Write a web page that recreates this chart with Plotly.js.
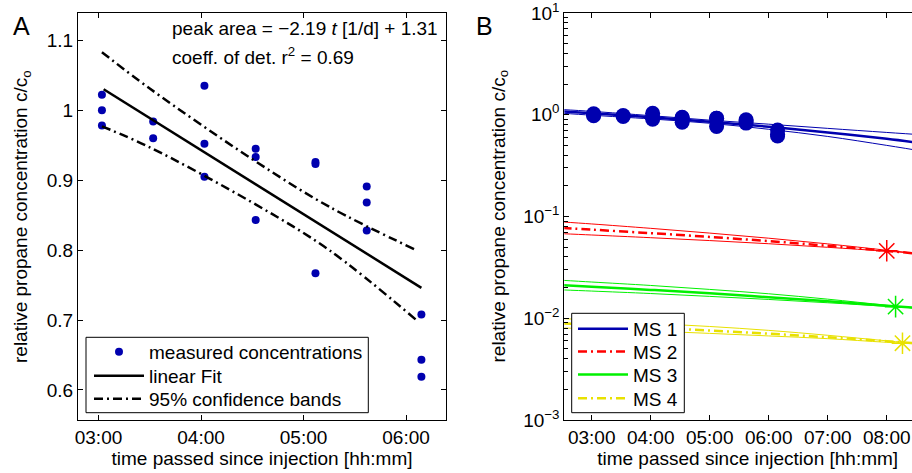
<!DOCTYPE html>
<html>
<head>
<meta charset="utf-8">
<script src="https://cdn.plot.ly/plotly-3.0.1.min.js"></script>
<style>
html,body{margin:0;padding:0;overflow:hidden;background:#fff;width:912px;height:473px;}
#chart{width:960px;height:473px;}
</style>
</head>
<body>
<div id="chart"></div>
<script>
// ---------- Panel A data ----------
const measTimes = ['03:02','03:02','03:02','03:32','03:32','04:02','04:02','04:02','04:32','04:32','04:32',
                   '05:07','05:07','05:07','05:37','05:37','05:37','06:09','06:09','06:09'];
const measConc  = [1.022,1.000,0.978, 0.984,0.960, 1.035,0.952,0.905, 0.945,0.933,0.843,
                   0.926,0.923,0.767, 0.891,0.868,0.828, 0.708,0.643,0.619];
const fitTimesA = ['03:03','06:09'];
const fitConcA  = [1.030, 0.746];
const bandTimesA = ['03:02','03:30','04:30','05:15','06:06'];
const bandUpperA = [1.083, 1.031, 0.930, 0.862, 0.800];
const bandLowerA = [0.977, 0.947, 0.868, 0.800, 0.700];

// ---------- Panel B data ----------
const curveTimes = ['02:30','03:00','04:00','05:00','06:00','07:00','08:00','08:45'];
const ms1Center = [1.082, 1.036, 0.945, 0.854, 0.763, 0.671, 0.580, 0.511];
const ms1Upper  = [1.125, 1.080, 0.980, 0.885, 0.808, 0.735, 0.670, 0.627];
const ms1Lower  = [1.035, 0.990, 0.910, 0.825, 0.720, 0.612, 0.500, 0.425];
const ms2Center = [0.0771, 0.0743, 0.0686, 0.0630, 0.0573, 0.0516, 0.0459, 0.0420];
const ms2Upper  = [0.0884, 0.0845, 0.0765, 0.0687, 0.0612, 0.0538, 0.0466, 0.0418];
const ms2Lower  = [0.0678, 0.0658, 0.0619, 0.0580, 0.0540, 0.0498, 0.0456, 0.0424];
const ms3Center = [0.0212, 0.0204, 0.0190, 0.0176, 0.0161, 0.0147, 0.0133, 0.0123];
const ms3Upper  = [0.0236, 0.0227, 0.0210, 0.0192, 0.0174, 0.0154, 0.0134, 0.0121];
const ms3Lower  = [0.0190, 0.0185, 0.0175, 0.0164, 0.0153, 0.0142, 0.0131, 0.0124];
const ms4Center = [0.0089, 0.00862, 0.0081, 0.00757, 0.00705, 0.0065, 0.00595, 0.00553];
const ms4Upper  = [0.00993, 0.0096, 0.0089, 0.0083, 0.0076, 0.0068, 0.0060, 0.0055];
const ms4Lower  = [0.00803, 0.00785, 0.0075, 0.0071, 0.0067, 0.0063, 0.0058, 0.0055];
const endTimes = ['08:00','08:09','08:16'];
const endConc  = [0.0460, 0.0130, 0.00568];
const seriesNames = ['MS 1','MS 2','MS 3','MS 4'];
const seriesColors = ['rgb(0,0,175)','rgb(255,0,0)','rgb(0,240,0)','rgb(232,225,0)'];

const yTickVals = [0.001, 0.01, 0.1, 1, 10];
const yTickText = ['10<sup>−3</sup>','10<sup>−2</sup>','10<sup>−1</sup>','10<sup>0</sup>','10<sup>1</sup>'];
const minorMantissas = [2,3,4,5,6,7,8,9];
const minorDecades = [0.001, 0.01, 0.1, 1];
const xTitle = 'time passed since injection [hh:mm]';
const yTitle = 'relative propane concentration c/c<sub>o</sub>';

// ---------- helpers ----------
const d = t => '2000-01-01 ' + t + ':00';
const D = arr => arr.map(d);
const W = 960, H = 473;
const px = v => v / W, py = v => 1 - v / H;
const FONT = 'Liberation Sans, Arial, sans-serif';
const DASHDOT = '9px,4px,2px,4px';
const minorTickVals = [];
minorDecades.forEach(dec => minorMantissas.forEach(m => minorTickVals.push(m * dec)));

const traces = [];
// Panel A
traces.push({x: D(measTimes), y: measConc, type:'scatter', mode:'markers', name:'measured concentrations',
  marker:{color:seriesColors[0], size:8}, xaxis:'x', yaxis:'y', legend:'legend'});
traces.push({x: D(fitTimesA), y: fitConcA, type:'scatter', mode:'lines', name:'linear Fit',
  line:{color:'black', width:2.5}, xaxis:'x', yaxis:'y', legend:'legend3'});
traces.push({x: D(bandTimesA), y: bandUpperA, type:'scatter', mode:'lines', name:'95% confidence bands',
  line:{color:'black', width:2.5, dash:DASHDOT, shape:'spline'}, xaxis:'x', yaxis:'y', legend:'legend4'});
traces.push({x: D(bandTimesA), y: bandLowerA, type:'scatter', mode:'lines', name:'95% confidence bands', showlegend:false,
  line:{color:'black', width:2.5, dash:DASHDOT, shape:'spline'}, xaxis:'x', yaxis:'y'});

// Panel B
const centers = [ms1Center, ms2Center, ms3Center, ms4Center];
const uppers = [ms1Upper, ms2Upper, ms3Upper, ms4Upper];
const lowers = [ms1Lower, ms2Lower, ms3Lower, ms4Lower];
const dashes = ['solid', DASHDOT, 'solid', DASHDOT];
const bLegends = ['legend2','legend5','legend6','legend7'];
for (let i = 0; i < 4; i++) {
  traces.push({x: D(curveTimes), y: uppers[i], type:'scatter', mode:'lines', showlegend:false, hoverinfo:'skip',
    line:{color:seriesColors[i], width:1, shape:'spline'}, xaxis:'x2', yaxis:'y2'});
  traces.push({x: D(curveTimes), y: lowers[i], type:'scatter', mode:'lines', showlegend:false, hoverinfo:'skip',
    line:{color:seriesColors[i], width:1, shape:'spline'}, xaxis:'x2', yaxis:'y2'});
  traces.push({x: D(curveTimes), y: centers[i], type:'scatter', mode:'lines', name:seriesNames[i],
    line:{color:seriesColors[i], width:2.5, dash:dashes[i], shape:'spline'}, xaxis:'x2', yaxis:'y2', legend:bLegends[i]});
}
traces.push({x: D(measTimes), y: measConc, type:'scatter', mode:'markers', showlegend:false,
  marker:{color:seriesColors[0], size:15}, xaxis:'x2', yaxis:'y2'});
for (let i = 0; i < 3; i++) {
  traces.push({x: [d(endTimes[i])], y: [endConc[i]], type:'scatter', mode:'markers', showlegend:false,
    marker:{symbol:'asterisk-open', size:18, color:seriesColors[i+1], line:{color:seriesColors[i+1], width:1.5}},
    xaxis:'x2', yaxis:'y2'});
}
// empty trace so the minor-tick overlay axis is drawn
traces.push({x: [], y: [], type:'scatter', mode:'markers', showlegend:false, xaxis:'x2', yaxis:'y3'});

const axisCommon = {showline:true, linecolor:'black', linewidth:1, mirror:'ticks', ticks:'inside', ticklen:5,
  tickcolor:'black', showgrid:false, zeroline:false, ticklabeloverflow:'allow',
  tickfont:{size:19, family:FONT, color:'black'}};
const ydom = [py(420), py(13)];

function legendAt(x, yc) {
  return {x:px(x), y:py(yc), xanchor:'left', yanchor:'middle', bgcolor:'rgba(0,0,0,0)', borderwidth:0,
    font:{size:19, family:FONT, color:'black'}, itemwidth:50};
}

const layout = {
  width: W, height: H, margin:{l:0, r:0, t:0, b:0}, paper_bgcolor:'white', plot_bgcolor:'white',
  font:{family:FONT, size:19, color:'black'},
  xaxis: Object.assign({}, axisCommon, {domain:[px(78), px(446)], anchor:'y', type:'date',
    range:[d('02:48') , '2000-01-01 06:23:24'], dtick:3600000, tick0:d('03:00'), tickformat:'%H:%M',
    title:{text:xTitle, font:{size:19, family:FONT}, standoff:4}}),
  yaxis: Object.assign({}, axisCommon, {domain:ydom, anchor:'x', range:[0.557, 1.139], dtick:0.1, tick0:0}),
  xaxis2: Object.assign({}, axisCommon, {domain:[px(564.3), px(931)], anchor:'y2', type:'date',
    range:['2000-01-01 02:32:10', d('08:45')], dtick:3600000, tick0:d('03:00'), tickformat:'%H:%M',
    title:{text:xTitle, font:{size:19, family:FONT}, standoff:4}}),
  yaxis2: Object.assign({}, axisCommon, {domain:ydom, anchor:'x2', type:'log', range:[-3.0001, 1.0001],
    tickmode:'array', tickvals:yTickVals, ticktext:yTickText}),
  yaxis3: {domain:ydom, anchor:'x2', overlaying:'y2', side:'left', type:'log', range:[-3.0001, 1.0001],
    tickmode:'array', tickvals:minorTickVals, showticklabels:false, ticks:'inside', ticklen:4, tickcolor:'black',
    tickwidth:1, mirror:'ticks', showline:false, showgrid:false, zeroline:false},
  legend: legendAt(89, 352),
  legend3: legendAt(89, 376),
  legend4: legendAt(89, 399),
  legend2: legendAt(573, 329),
  legend5: legendAt(573, 351.7),
  legend6: legendAt(573, 374.7),
  legend7: legendAt(573, 398.3),
  shapes: [
    {type:'rect', xref:'paper', yref:'paper', x0:px(86), x1:px(368.3), y0:py(412.7), y1:py(337.3),
      fillcolor:'white', line:{color:'black', width:1}, layer:'above'},
    {type:'rect', xref:'paper', yref:'paper', x0:px(571.7), x1:px(684.3), y0:py(412.7), y1:py(313.3),
      fillcolor:'white', line:{color:'black', width:1}, layer:'above'}
  ],
  annotations: [
    {text:yTitle, xref:'paper', yref:'paper', x:px(22.5), y:py(216.5), textangle:-90,
      xanchor:'center', yanchor:'middle', showarrow:false, font:{size:19, family:FONT}},
    {text:yTitle, xref:'paper', yref:'paper', x:px(500), y:py(216.5), textangle:-90,
      xanchor:'center', yanchor:'middle', showarrow:false, font:{size:19, family:FONT}},
    {text:'peak area = −2.19 <i>t</i> [1/d] + 1.31', xref:'paper', yref:'paper', x:px(170), y:py(28),
      xanchor:'left', yanchor:'middle', showarrow:false, font:{size:19, family:FONT}},
    {text:'coeff. of det. r<sup>2</sup> = 0.69', xref:'paper', yref:'paper', x:px(170), y:py(56),
      xanchor:'left', yanchor:'middle', showarrow:false, font:{size:19, family:FONT}},
    {text:'A', xref:'paper', yref:'paper', x:px(21), y:py(26), xanchor:'center', yanchor:'middle',
      showarrow:false, font:{size:25, family:FONT}},
    {text:'B', xref:'paper', yref:'paper', x:px(484.5), y:py(25.5), xanchor:'center', yanchor:'middle',
      showarrow:false, font:{size:25, family:FONT}}
  ]
};

Plotly.newPlot('chart', traces, layout, {staticPlot:true, displayModeBar:false});
</script>
</body>
</html>
